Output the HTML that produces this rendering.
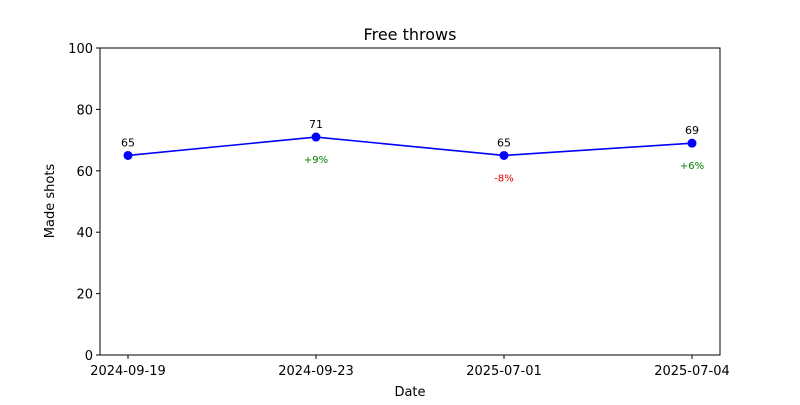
<!DOCTYPE html>
<html><head><meta charset="utf-8"><style>
body{margin:0;background:#fff;}
svg text{font-family:"DejaVu Sans","Liberation Sans",sans-serif;}
</style></head><body>
<svg id="chart" width="800" height="400" xmlns="http://www.w3.org/2000/svg">
<rect width="800" height="400" fill="#fff"/>
<text x="410" y="40" font-size="16" text-anchor="middle">Free throws</text>
<g id="axes"></g>
<g id="marks"></g>
<rect x="100" y="48" width="620" height="307" fill="none" stroke="#000" stroke-width="1"/>
<text x="410" y="396" font-size="13" text-anchor="middle">Date</text>
<text x="54" y="201" font-size="13" text-anchor="middle" transform="rotate(-90 54 201)">Made shots</text>
</svg>
<script>
const categories = ["2024-09-19","2024-09-23","2025-07-01","2025-07-04"];
const values = [65,71,65,69];
const changeLabels = ["","+9%","-8%","+6%"];
const yTicks = [0,20,40,60,80,100];
const NS="http://www.w3.org/2000/svg";
const L=100,R=720,T=48,B=355,YMIN=0,YMAX=100;
const pad=28;
function x(i){return L+pad+i*(R-L-2*pad)/(categories.length-1);}
function y(v){return B-(v-YMIN)/(YMAX-YMIN)*(B-T);}
function mk(tag,attrs,parent){const e=document.createElementNS(NS,tag);for(const k in attrs)e.setAttribute(k,attrs[k]);parent.appendChild(e);return e;}
const axes=document.getElementById('axes'),marks=document.getElementById('marks');
yTicks.forEach(t=>{
  const l=mk('line',{x1:L-4,x2:L,y1:y(t),y2:y(t),stroke:'#000'},axes);
  
  
  const tx=mk('text',{x:L-7,y:y(t)+5,'font-size':13,'text-anchor':'end'},axes);
  tx.textContent=t;
  
  
});
categories.forEach((c,i)=>{
  const l=mk('line',{x1:x(i),x2:x(i),y1:B,y2:B+4,stroke:'#000'},axes);
  
  
  const tx=mk('text',{x:x(i),y:B+20,'font-size':13,'text-anchor':'middle'},axes);
  tx.textContent=c;
  
  
});
const line=mk('polyline',{points:values.map((v,i)=>x(i)+','+y(v)).join(' '),fill:'none',stroke:'#0000ff','stroke-width':1.6},marks);


values.forEach((v,i)=>{
  const c=mk('circle',{cx:x(i),cy:y(v),r:4.5,fill:'#0000ff'},marks);
  
  
  const t=mk('text',{x:x(i),y:y(v)-9,'font-size':11,'text-anchor':'middle'},marks);
  t.textContent=v;
  
  
  if(changeLabels[i]){
    const p=mk('text',{x:x(i),y:y(v)+26,'font-size':10,'text-anchor':'middle',fill:changeLabels[i][0]==='-'?'#e00000':'#008000'},marks);
    p.textContent=changeLabels[i];
    
    
  }
});
</script>
</body></html>
